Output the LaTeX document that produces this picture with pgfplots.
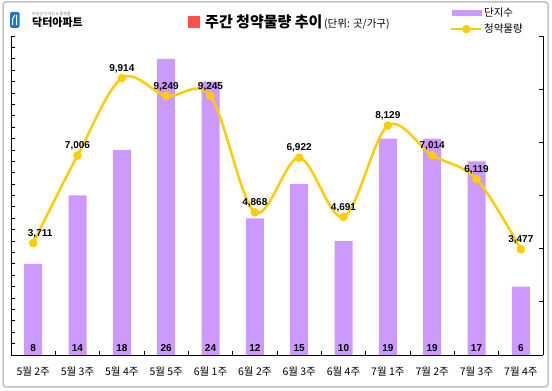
\documentclass[border=0pt]{standalone}
\usepackage{fontspec}
\setmainfont{Liberation Sans}
\newfontfamily\kr{Noto Sans CJK KR}
\usepackage{pgfplots}
\pgfplotsset{compat=1.18}
\definecolor{barc}{HTML}{CC99FF}
\definecolor{linec}{HTML}{FFCC00}
\definecolor{framec}{HTML}{C0C0C0}
\definecolor{titlered}{HTML}{FF5050}
\definecolor{logoblue}{HTML}{1E78C8}
\pgfplotsset{linelegend/.style={legend image code/.code={\draw[mark repeat=2, mark phase=2, ##1] plot coordinates {(0bp,0bp) (15bp,0bp) (30bp,0bp)};}}}

\begin{document}
\begin{tikzpicture}
\path[use as bounding box] (0bp,0bp) rectangle (552bp,391bp);
\draw[framec, line width=1.5bp, rounded corners=3bp] (3bp,4bp) rectangle (548bp,389bp);
% logo
\fill[logoblue, rounded corners=1.5bp] (10bp,363bp) rectangle (19.5bp,379bp);
\draw[white, line width=1bp] (12.5bp,366bp) -- (12.5bp,372bp) -- (15bp,376bp) (16.5bp,366bp) -- (16.5bp,376bp);
\node[anchor=west, inner sep=0] at (32bp,368.5bp) {\kr\bfseries\fontsize{11bp}{13bp}\selectfont 닥터아파트};
\node[anchor=west, inner sep=0, text=gray] at (32bp,376.5bp) {\kr\fontsize{4bp}{5bp}\selectfont 부동산 리서치 \& 플랫폼};
% title
\fill[titlered] (188bp,363bp) rectangle (199.5bp,374.5bp);
\node[anchor=west, inner sep=0] at (205bp,369bp) {{\kr\bfseries\fontsize{15bp}{17bp}\selectfont 주간 청약물량 추이}\,{\kr\fontsize{10.5bp}{12bp}\selectfont (단위: 곳/가구)}};

\begin{axis}[
  at={(11bp,36bp)}, anchor=south west, width=532bp, height=319bp, scale only axis,
  xmin=-0.5, xmax=11.5, ymin=0, ymax=28,
  axis y line*=left, axis x line*=bottom,
  axis line style={-, black, line width=1bp},
  ytick={0,1,...,28}, yticklabel=\empty,
  xtick={0,...,11},
  xticklabels={5월 2주,5월 3주,5월 4주,5월 5주,6월 1주,6월 2주,6월 3주,6월 4주,7월 1주,7월 2주,7월 3주,7월 4주},
  major x tick style={draw=none},
  minor xtick={0.5,1.5,...,10.5},
  tick align=inside, major tick length=4bp, minor tick length=4bp,
  tick style={black, line width=0.8bp},
  xticklabel style={font=\kr\fontsize{10.5bp}{12bp}\selectfont, yshift=-8bp},
  clip=false,
]
\addplot[ybar, bar width=18bp, fill=barc, draw=none, bar shift=0pt] coordinates {
  (0,8) (1,14) (2,18) (3,26) (4,24) (5,12) (6,15) (7,10) (8,19) (9,19) (10,17) (11,6)};
\addplot[draw=none, mark=none, nodes near coords, point meta=explicit,
  nodes near coords={\pgfmathprintnumber{\pgfplotspointmeta}},
  every node near coord/.append style={anchor=south, inner sep=0pt, yshift=3bp, font=\bfseries\fontsize{10bp}{12bp}\selectfont, text=black, /pgf/number format/assume math mode=true}]
  coordinates {
  (0,0) [8] (1,0) [14] (2,0) [18] (3,0) [26] (4,0) [24] (5,0) [12] (6,0) [15] (7,0) [10] (8,0) [19] (9,0) [19] (10,0) [17] (11,0) [6]};
\end{axis}

\begin{axis}[
  at={(11bp,36bp)}, anchor=south west, width=532bp, height=319bp, scale only axis,
  xmin=-0.5, xmax=11.5, ymin=-500, ymax=11500,
  axis y line*=right, axis x line=none,
  axis line style={-, black, line width=1bp},
  ytick={-500,1500,...,11500}, yticklabel=\empty, scaled y ticks=false,
  tick align=inside, major tick length=4bp,
  tick style={black, line width=0.8bp},
  clip=false,
  legend style={at={(0.825,1.095)}, anchor=north west, draw=none, fill=none,
    font=\kr\fontsize{10.5bp}{12bp}\selectfont, row sep=3.5bp, inner sep=0pt,
    nodes={inner sep=1.5bp}},
  legend cell align=left,
]
\addlegendimage{legend image code/.code={\fill[barc] (1bp,-2.75bp) rectangle (30bp,2.75bp);}}
\addlegendentry{단지수}
\addplot[linec, line width=2.5bp, smooth, tension=0.55, mark=*, mark size=4bp,
  mark options={fill=linec, draw=linec, line width=0.5bp},
  linelegend,
  nodes near coords, point meta=y,
  nodes near coords={\pgfmathprintnumber[fixed, precision=0, 1000 sep={,}]{\pgfplotspointmeta}},
  every node near coord/.append style={anchor=south, inner sep=0pt, yshift=5bp, font=\bfseries\fontsize{10bp}{12bp}\selectfont, text=black, /pgf/number format/assume math mode=true},
  coordinate style/.condition={x<0.5}{xshift=7bp}]
  coordinates {
  (0,3711) (1,7006) (2,9914) (3,9249) (4,9245) (5,4868) (6,6922) (7,4691) (8,8129) (9,7014) (10,6119) (11,3477)};
\addlegendentry{청약물량}
\end{axis}
\end{tikzpicture}
\end{document}
